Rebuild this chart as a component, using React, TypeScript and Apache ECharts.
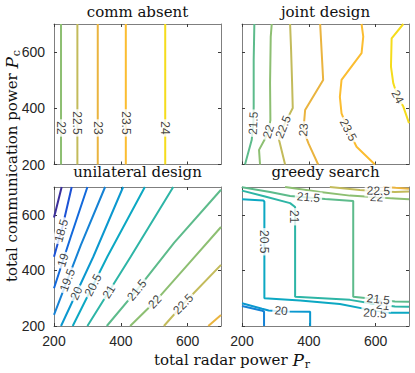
import React, { useEffect, useRef } from 'react';
import * as echarts from 'echarts';

// ---------- axes ----------
const tickValues = [200, 400, 600];
const axisMin = 200;
const axisMax = 700;

// ---------- colour map (parula-like) ----------
const paletteLevels = [18, 18.5, 19, 19.5, 20, 20.5, 21, 21.5, 22, 22.5, 23, 23.5, 24];
const paletteColors = ['#3b2f9c', '#1c52d6', '#1269dc', '#1582d5', '#0b98cf', '#0ca8c3', '#2db5a6', '#5dbb8b', '#8dbf72', '#c3bb5b', '#eab43f', '#fbbd31', '#f5dc1c'];

const panelTitles = ['comm absent', 'joint design', 'unilateral design', 'greedy search'];

// ---------- comm absent ----------
const commAbsentLevels = [22, 22.5, 23, 23.5, 24];
const commAbsentPr = [221, 270, 331, 415, 533];
const commAbsentLabelPc = [330, 348, 330, 348, 330];

// ---------- joint design ----------
const jointLevels = [21.5, 22, 22.5, 23, 23.5, 24];
const joint215 = [[237, 700], [235, 572], [235, 406], [234, 347], [229, 287], [209, 200]];
const joint22 = [[289, 700], [286, 654], [284, 490], [285, 358], [279, 317], [267, 287], [251, 252], [254, 200]];
const joint225 = [[344, 700], [347, 607], [350, 490], [352, 401], [323, 334], [311, 287], [329, 200]];
const joint23 = [[434, 700], [443, 501], [389, 394], [384, 323], [399, 275], [428, 200]];
const joint235 = [[558, 700], [563, 655], [558, 596], [498, 501], [493, 441], [498, 382], [518, 323], [543, 263], [598, 200]];
const joint24 = [[683, 700], [648, 649], [646, 548], [653, 489], [666, 441], [683, 406], [700, 347]];
const jointLines = [joint215, joint22, joint225, joint23, joint235, joint24];
const jointLabelLevels = [21.5, 22, 22.5, 23, 23.5, 24];
const jointLabelPos = [[234, 347], [279, 317], [323, 334], [384, 323], [518, 323], [666, 441]];
const jointLabelAngle = [87, 72, 68, 86, -62, -62];

// ---------- unilateral design ----------
const uniLevels = [18, 18.5, 19, 19.5, 20, 20.5, 21, 21.5, 22, 22.5, 23];
const uni18 = [[200, 590], [223, 700]];
const uni185 = [[200, 449], [226, 560], [253, 700]];
const uni19 = [[200, 336], [250, 520], [300, 700]];
const uni195 = [[200, 240], [280, 490], [353, 700]];
const uni20 = [[221, 200], [318, 450], [407, 700]];
const uni205 = [[256, 200], [360, 450], [472, 700]];
const uni21 = [[300, 200], [430, 450], [557, 700]];
const uni215 = [[358, 200], [448, 329], [560, 500], [700, 690]];
const uni22 = [[428, 200], [502, 287], [600, 420], [700, 556]];
const uni225 = [[529, 200], [587, 279], [700, 420]];
const uni23 = [[662, 200], [700, 240]];
const uniLines = [uni18, uni185, uni19, uni195, uni20, uni205, uni21, uni215, uni22, uni225, uni23];
const uniLabelLevels = [18.5, 19, 19.5, 20, 20.5, 21, 21.5, 22, 22.5];
const uniLabelPos = [[222, 543], [227, 437], [240, 365], [267, 318], [317, 347], [364, 323], [448, 329], [502, 287], [587, 279]];
const uniLabelAngle = [74, 72, 69, 65, 63, 58, 50, 47, 46];

// ---------- greedy search ----------
const greedyLevels = [19.5, 20, 20.5, 21, 21.5, 22, 22.5, 23];
const greedy195 = [[200, 272], [258, 256], [266, 252], [266, 200]];
const greedy20 = [[200, 282], [260, 262], [280, 256], [330, 252], [404, 251], [404, 200]];
const greedy205 = [[200, 656], [264, 651], [267, 648], [267, 300], [374, 292], [493, 279], [583, 258], [643, 248], [700, 248]];
const greedy21 = [[200, 687], [269, 666], [344, 642], [359, 628], [359, 305], [523, 294], [598, 279], [658, 270], [700, 269]];
const greedy215 = [[200, 699], [284, 682], [344, 668], [449, 657], [533, 650], [533, 305], [583, 299], [658, 288], [700, 287]];
const greedy22 = [[329, 700], [434, 682], [523, 669], [603, 663], [658, 659], [700, 656]];
const greedy225 = [[463, 700], [553, 689], [608, 685], [658, 682], [700, 684]];
const greedy23 = [[622, 700], [660, 697], [700, 694]];
const greedyLines = [greedy195, greedy20, greedy205, greedy21, greedy215, greedy22, greedy225, greedy23];
const greedyLabelLevels = [20, 20.5, 20.5, 21, 21, 21.5, 21.5, 22, 22.5];
const greedyLabelPos = [[317, 255], [267, 503], [598, 246], [357, 593], [622, 274], [399, 663], [608, 296], [603, 663], [608, 686]];
const greedyLabelAngle = [-4, -90, -3, -90, -7, -5, -6, -3, -2];

// ---------- layout ----------
const grids = [
  { left: 54, top: 24, width: 167, height: 140.5 },
  { left: 242, top: 24, width: 167, height: 140.5 },
  { left: 54, top: 187, width: 167, height: 139 },
  { left: 242, top: 187, width: 167, height: 139 },
];

const SANS = 'Liberation Sans, Arial, Helvetica, sans-serif';
const SERIF = 'DejaVu Serif, serif';
const FRAME = '#7f7f7f';
const TICK = '#3a3a3a';
const TEXT = '#262626';

function colorOf(level: number): string {
  const i = paletteLevels.indexOf(level);
  return i >= 0 ? paletteColors[i] : '#888';
}

function lineSeries(gi: number, levels: number[], lines: number[][][]) {
  return lines.map((pts, k) => ({
    type: 'line',
    xAxisIndex: gi * 2,
    yAxisIndex: gi * 2,
    data: pts,
    showSymbol: false,
    symbol: 'none',
    silent: true,
    clip: true,
    z: 2,
    lineStyle: { color: colorOf(levels[k]), width: 2 },
  }));
}

function labelSeries(gi: number, levels: number[], pos: number[][], angles: number[]) {
  return {
    type: 'scatter',
    xAxisIndex: gi * 2,
    yAxisIndex: gi * 2,
    symbolSize: 1,
    silent: true,
    z: 5,
    itemStyle: { color: 'rgba(0,0,0,0)' },
    data: pos.map((p, k) => ({
      name: String(levels[k]),
      value: p,
      label: { rotate: angles[k] },
    })),
    label: {
      show: true,
      position: 'inside',
      formatter: '{b}',
      fontFamily: SANS,
      fontSize: 12,
      color: '#111',
      backgroundColor: '#fff',
      padding: [0, 2, 0, 2],
    },
  };
}

function buildOption() {
  const xAxis: any[] = [];
  const yAxis: any[] = [];
  grids.forEach((_, i) => {
    const showX = i >= 2;
    const showY = i % 2 === 0;
    const base = {
      gridIndex: i,
      type: 'value',
      min: axisMin,
      max: axisMax,
      interval: 200,
      splitLine: { show: false },
      axisLine: { show: true, onZero: false, lineStyle: { color: FRAME, width: 1 } },
      axisTick: { show: true, inside: true, length: 3, customValues: tickValues, lineStyle: { color: TICK } },
    };
    xAxis.push({
      ...base,
      position: 'bottom',
      axisLabel: { show: showX, customValues: tickValues, fontFamily: SANS, fontSize: 14, color: TEXT, margin: 8 },
    });
    xAxis.push({ ...base, position: 'top', axisLabel: { show: false } });
    yAxis.push({
      ...base,
      position: 'left',
      axisLabel: { show: showY, customValues: tickValues, fontFamily: SANS, fontSize: 14, color: TEXT, margin: 9 },
    });
    yAxis.push({ ...base, position: 'right', axisLabel: { show: false } });
  });

  const commLines = commAbsentPr.map((x) => [[x, axisMin], [x, axisMax]]);
  const commLabelPos = commAbsentPr.map((x, k) => [x, commAbsentLabelPc[k]]);

  const series: any[] = [
    ...lineSeries(0, commAbsentLevels, commLines),
    labelSeries(0, commAbsentLevels, commLabelPos, commAbsentLevels.map(() => -90)),
    ...lineSeries(1, jointLevels, jointLines),
    labelSeries(1, jointLabelLevels, jointLabelPos, jointLabelAngle),
    ...lineSeries(2, uniLevels, uniLines),
    labelSeries(2, uniLabelLevels, uniLabelPos, uniLabelAngle),
    ...lineSeries(3, greedyLevels, greedyLines),
    labelSeries(3, greedyLabelLevels, greedyLabelPos, greedyLabelAngle),
  ];

  const titleY = [11.5, 11.5, 172, 172];
  const graphic: any[] = panelTitles.map((t, i) => ({
    type: 'text',
    x: grids[i].left + grids[i].width / 2,
    y: titleY[i],
    silent: true,
    style: {
      text: t,
      fontFamily: SERIF,
      fontSize: 15,
      fill: '#111',
      align: 'center',
      verticalAlign: 'middle',
      textAlign: 'center',
      textVerticalAlign: 'middle',
    },
  }));

  const rich = {
    p: { fontFamily: SERIF, fontStyle: 'italic', fontSize: 17, fill: '#111', color: '#111' },
    s: { fontFamily: SERIF, fontSize: 11, fill: '#111', color: '#111', padding: [9, 0, 0, 1] },
  };
  graphic.push({
    type: 'text',
    x: 232,
    y: 360,
    silent: true,
    style: {
      text: 'total radar power {p|P}{s|r}',
      fontFamily: SERIF,
      fontSize: 15,
      fill: '#111',
      align: 'center',
      verticalAlign: 'middle',
      textAlign: 'center',
      textVerticalAlign: 'middle',
      rich,
    },
  });
  graphic.push({
    type: 'text',
    x: 11.5,
    y: 166,
    rotation: Math.PI / 2,
    silent: true,
    style: {
      text: 'total communication power {p|P}{s|c}',
      fontFamily: SERIF,
      fontSize: 15,
      fill: '#111',
      align: 'center',
      verticalAlign: 'middle',
      textAlign: 'center',
      textVerticalAlign: 'middle',
      rich,
    },
  });

  return {
    animation: false,
    backgroundColor: '#fff',
    grid: grids.map((g) => ({ ...g, containLabel: false })),
    xAxis,
    yAxis,
    series,
    graphic,
  };
}

export default function App() {
  const ref = useRef<HTMLDivElement>(null);
  useEffect(() => {
    if (!ref.current) return;
    const chart = echarts.init(ref.current, undefined, { renderer: 'svg' });
    chart.setOption(buildOption() as any);
    return () => chart.dispose();
  }, []);
  return (
    <div
      ref={ref}
      style={{ position: 'fixed', left: 0, top: 0, width: 415, height: 373, background: '#fff' }}
    />
  );
}
